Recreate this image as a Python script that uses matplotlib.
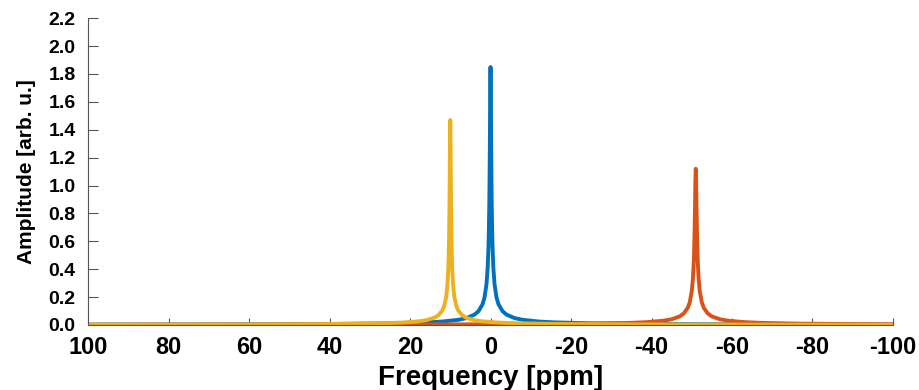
import matplotlib
matplotlib.use("Agg")
import matplotlib.pyplot as plt
import numpy as np

plt.rcParams["font.family"] = ["Liberation Sans", "DejaVu Sans"]
plt.rcParams["font.weight"] = "bold"
plt.rcParams["axes.unicode_minus"] = False

# offsets from each peak centre [ppm]
offsets = [0, 0.05, 0.1, 0.15, 0.2, 0.3, 0.4, 0.5, 0.7, 1, 1.5, 2, 3, 4, 6, 8,
           12, 16, 25, 40, 49, 60, 80, 90, 100, 110, 130, 151]

blue_center = 0
blue_amp = [1.85, 1.766, 1.569, 1.350, 1.156, 0.871, 0.687, 0.564, 0.412, 0.292,
            0.196, 0.1475, 0.0985, 0.0740, 0.0493, 0.0370, 0.0247, 0.0185,
            0.0118, 0.0074, 0.0060, 0.0049, 0.0037, 0.0033, 0.0030, 0.0027,
            0.0023, 0.0020]

orange_center = -51
orange_amp = [1.12, 1.092, 1.020, 0.925, 0.829, 0.662, 0.540, 0.451, 0.336, 0.241,
              0.1625, 0.1225, 0.0819, 0.0615, 0.0410, 0.0308, 0.0205, 0.0154,
              0.0099, 0.0062, 0.0050, 0.0041, 0.0031, 0.0027, 0.0025, 0.0022,
              0.0019, 0.0016]

yellow_center = 10
yellow_amp = [1.47, 1.384, 1.196, 1.003, 0.843, 0.622, 0.486, 0.396, 0.288, 0.204,
              0.1366, 0.1026, 0.0685, 0.0514, 0.0343, 0.0257, 0.0172, 0.0129,
              0.0082, 0.0051, 0.0042, 0.0034, 0.0026, 0.0023, 0.0021, 0.0019,
              0.0016, 0.0014]

series = [
    (blue_center, blue_amp, "#0072BD"),
    (orange_center, orange_amp, "#D95319"),
    (yellow_center, yellow_amp, "#EDB120"),
]


def spectrum(center, amp):
    d = np.array(offsets)
    a = np.array(amp)
    x = np.concatenate([center + d[::-1], center - d[1:]])
    y = np.concatenate([a[::-1], a[1:]])
    keep = (x <= 100.001) & (x >= -100.001)
    return x[keep], y[keep]


fig = plt.figure(figsize=(9.19, 3.90), dpi=100)
ax = fig.add_axes([0.0958, 0.1667, 0.8759, 0.7866])

for center, amp, color in series:
    x, y = spectrum(center, amp)
    ax.plot(x, y, color=color, lw=2.8, solid_joinstyle="round")

ax.set_xlim(100, -100)
ax.set_ylim(0, 2.2)
ax.set_xticks(np.arange(100, -101, -20))
ax.set_yticks(np.arange(0, 2.21, 0.2))
ax.set_yticklabels([f"{v:.1f}" for v in np.arange(0, 2.21, 0.2)])

for s in ["top", "right"]:
    ax.spines[s].set_visible(False)
for s in ["left", "bottom"]:
    ax.spines[s].set_color("#555555")
    ax.spines[s].set_linewidth(0.8)

ax.tick_params(axis="x", direction="in", length=5, color="#555555",
               labelsize=17, pad=8)
ax.tick_params(axis="y", direction="in", length=7, color="#555555",
               labelsize=14, pad=9)
for lab in ax.get_xticklabels() + ax.get_yticklabels():
    lab.set_fontweight("bold")

ax.set_xlabel("Frequency [ppm]", fontsize=20, fontweight="bold", labelpad=4)
ax.set_ylabel("Amplitude [arb. u.]", fontsize=15, fontweight="bold", labelpad=9)

fig.savefig("out.png", dpi=100)
